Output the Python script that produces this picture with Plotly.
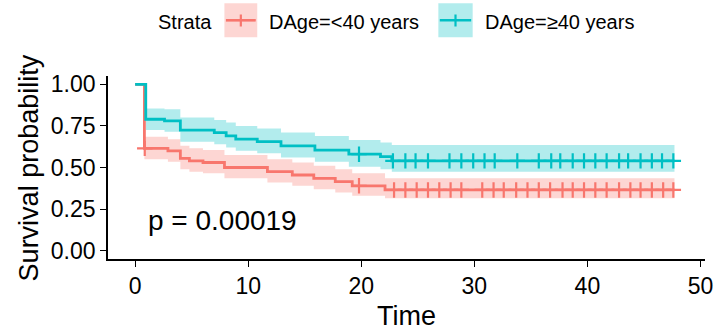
import plotly.graph_objects as go

# ---------------- data ----------------
strata_title = "Strata"
group_labels = ["DAge=<40 years", "DAge=≥40 years"]
group_colors = ["#F8766D", "#00BFC4"]
band_colors = ["rgba(248,118,109,0.3)", "rgba(0,191,196,0.3)"]

# group 1: DAge=<40 years
t_lt40 = [0, 0.82, 2.9, 4.0, 4.8, 6.0, 7.9, 11.7, 13.9, 15.8, 17.7, 19.2, 22.1, 47.7]
s_lt40 = [1.0, 0.615, 0.60, 0.555, 0.54, 0.53, 0.50, 0.475, 0.455, 0.435, 0.415, 0.39, 0.365, 0.365]
up_lt40 = [1.0, 0.685, 0.67, 0.63, 0.615, 0.605, 0.575, 0.55, 0.53, 0.51, 0.49, 0.465, 0.435, 0.435]
lo_lt40 = [1.0, 0.55, 0.535, 0.49, 0.475, 0.465, 0.435, 0.41, 0.39, 0.37, 0.35, 0.33, 0.315, 0.315]
cens_lt40 = [0.85, 19.8, 22.9, 23.9, 24.9, 25.9, 26.9, 27.9, 28.85, 30.7, 31.7, 32.6, 33.7,
             34.7, 35.7, 36.7, 37.8, 38.7, 39.7, 40.7, 41.7, 42.8, 43.8, 44.7, 45.7, 46.7, 47.6]

# group 2: DAge=>=40 years
t_ge40 = [0, 0.94, 2.6, 4.0, 7.0, 8.05, 8.9, 10.8, 12.9, 15.9, 18.9, 21.7, 22.7, 47.7]
s_ge40 = [1.0, 0.79, 0.78, 0.725, 0.71, 0.69, 0.67, 0.655, 0.63, 0.605, 0.58, 0.565, 0.54, 0.54]
up_ge40 = [1.0, 0.855, 0.85, 0.80, 0.785, 0.77, 0.75, 0.735, 0.71, 0.69, 0.665, 0.65, 0.635, 0.635]
lo_ge40 = [1.0, 0.725, 0.715, 0.655, 0.64, 0.62, 0.60, 0.585, 0.56, 0.535, 0.505, 0.49, 0.475, 0.475]
cens_ge40 = [19.8, 22.8, 23.9, 24.8, 25.9, 27.8, 28.85, 29.9, 30.9, 31.8, 33.8, 35.7, 36.8,
             37.6, 38.7, 39.7, 40.7, 41.7, 42.8, 43.6, 44.7, 45.7, 46.6, 47.6]

x_ticks = [0, 10, 20, 30, 40, 50]
y_ticks = [0.0, 0.25, 0.5, 0.75, 1.0]
y_tick_text = ["0.00", "0.25", "0.50", "0.75", "1.00"]
pval_text = "p = 0.00019"
pval_pos = (1.0, 0.18)

groups = [
    (t_lt40, s_lt40, up_lt40, lo_lt40, cens_lt40),
    (t_ge40, s_ge40, up_ge40, lo_ge40, cens_ge40),
]


def step_value(times, surv, t):
    v = surv[0]
    for ti, si in zip(times, surv):
        if ti <= t:
            v = si
    return v


fig = go.Figure()

# confidence bands
for (t, s, up, lo, c), bc in zip(groups, band_colors):
    fig.add_trace(go.Scatter(x=t, y=lo, mode="lines", line=dict(width=0, shape="hv"),
                             hoverinfo="skip", showlegend=False))
    fig.add_trace(go.Scatter(x=t, y=up, mode="lines", line=dict(width=0, shape="hv"),
                             fill="tonexty", fillcolor=bc, hoverinfo="skip", showlegend=False))

# survival curves + censor marks
for (t, s, up, lo, c), col in zip(groups, group_colors):
    fig.add_trace(go.Scatter(x=t, y=s, mode="lines", line=dict(color=col, width=2.8, shape="hv"),
                             showlegend=False))
    fig.add_trace(go.Scatter(x=c, y=[step_value(t, s, ci) for ci in c], mode="markers",
                             marker=dict(symbol="cross-thin", size=11, line=dict(color=col, width=2.2)),
                             showlegend=False))

W, H = 725, 335
L, R, T, B = 108, 17, 76, 76
pw, ph = W - L - R, H - T - B


def px(x):
    return (x - L) / pw


def py(y):
    return (H - B - y) / ph


FONT = "Liberation Sans, Arial, sans-serif"

annotations = [
    dict(text=pval_text, x=pval_pos[0], y=pval_pos[1], xref="x", yref="y", xanchor="left",
         yanchor="middle", showarrow=False, font=dict(size=28, color="black", family=FONT)),
    dict(text="Survival probability", x=px(28.5), y=0.5, xref="paper", yref="paper", textangle=-90,
         xanchor="center", yanchor="middle", showarrow=False, font=dict(size=27, color="black", family=FONT)),
    dict(text="Time", x=0.5, y=py(316), xref="paper", yref="paper", xanchor="center",
         yanchor="middle", showarrow=False, font=dict(size=27, color="black", family=FONT)),
    dict(text=strata_title, x=px(156.5), y=py(22), xref="paper", yref="paper", xanchor="left",
         yanchor="middle", showarrow=False, font=dict(size=20, color="black", family=FONT)),
]

shapes = []
legend_boxes = [(225, 258), (440, 474.5)]
label_x = [268, 485]
for (x0, x1), lx, lab, col, bc in zip(legend_boxes, label_x, group_labels, group_colors, band_colors):
    shapes.append(dict(type="rect", xref="paper", yref="paper", x0=px(x0), x1=px(x1),
                       y0=py(37.3), y1=py(3.3), fillcolor=bc, line=dict(width=0)))
    shapes.append(dict(type="line", xref="paper", yref="paper", x0=px(x0 + 1.5), x1=px(x1 - 1.5),
                       y0=py(20.3), y1=py(20.3), line=dict(color=col, width=2.6)))
    xm = (x0 + x1) / 2
    shapes.append(dict(type="line", xref="paper", yref="paper", x0=px(xm), x1=px(xm),
                       y0=py(14.5), y1=py(26.5), line=dict(color=col, width=2.2)))
    annotations.append(dict(text=lab, x=px(lx), y=py(22), xref="paper", yref="paper", xanchor="left",
                            yanchor="middle", showarrow=False,
                            font=dict(size=20, color="black", family=FONT)))

fig.update_layout(
    width=W, height=H,
    margin=dict(l=L, r=R, t=T, b=B),
    paper_bgcolor="white", plot_bgcolor="white",
    showlegend=False,
    annotations=annotations,
    shapes=shapes,
    font=dict(family=FONT, color="black"),
)
fig.update_xaxes(range=[-2.4, 50.4], tickvals=x_ticks, ticks="outside", ticklen=6, tickwidth=1.3,
                 tickcolor="black", showline=True, linecolor="black", linewidth=1.6, showgrid=False,
                 zeroline=False, tickfont=dict(size=23, color="black", family=FONT))
fig.update_yaxes(range=[-0.05, 1.05], tickvals=y_ticks, ticktext=y_tick_text, ticks="outside", ticklen=6,
                 tickwidth=1.3, tickcolor="black", showline=True, linecolor="black", linewidth=1.6,
                 showgrid=False, zeroline=False, tickfont=dict(size=23, color="black", family=FONT))

fig.write_html("out.html")
